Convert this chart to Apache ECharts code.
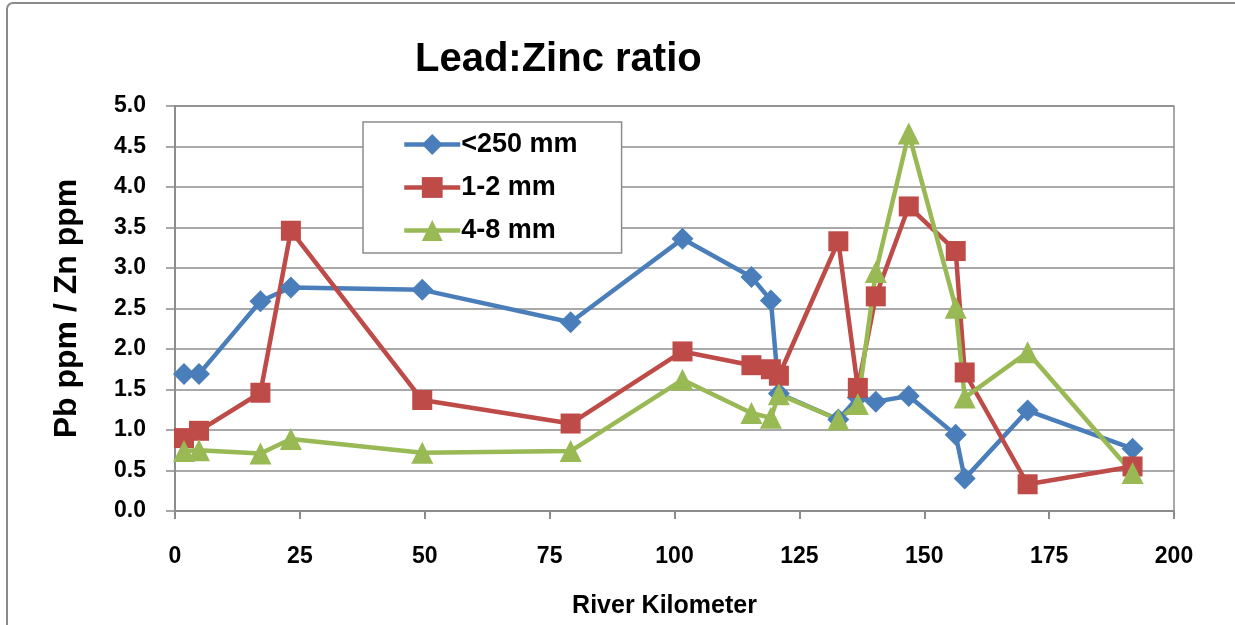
<!DOCTYPE html>
<html lang="en">
<head>
  <meta charset="UTF-8">
  <title>Lead:Zinc ratio</title>
  <style>
    html, body { margin: 0; padding: 0; background: #fff; }
    #main { width: 1235px; height: 625px; }
  </style>
</head>
<body>
  <div id="main"></div>
<script src="https://cdn.jsdelivr.net/npm/echarts@6/dist/echarts.min.js"></script>
<script>
  // river kilometre of each sampling site (shared by all three size fractions)
  const riverKm = [1.8, 4.8, 17.1, 23.2, 49.5, 79.2, 101.6, 115.4, 119.3, 120.9, 132.8, 136.7, 140.3, 146.9, 156.3, 158.1, 170.7, 191.7];

  const fine   = [1.69, 1.69, 2.59, 2.76, 2.73, 2.33, 3.36, 2.89, 2.60, 1.45, 1.13, 1.40, 1.35, 1.42, 0.94, 0.40, 1.24, 0.77];
  const medium = [0.90, 0.99, 1.46, 3.46, 1.37, 1.08, 1.97, 1.80, 1.75, 1.67, 3.33, 1.52, 2.65, 3.76, 3.21, 1.71, 0.33, 0.55];
  const coarse = [0.74, 0.75, 0.71, 0.89, 0.72, 0.74, 1.62, 1.21, 1.15, 1.44, 1.13, 1.32, 2.95, 4.66, 2.51, 1.40, 1.96, 0.47];

  const seriesNames = ['<250 mm', '1-2 mm', '4-8 mm'];

  const font = 'Liberation Sans, Arial, sans-serif';
  const gridGray = '#8c8c8c';

  function pairs(ys) {
    return riverKm.map((x, i) => [x, ys[i]]);
  }

  function lineSeries(name, ys, color, symbol, size) {
    return {
      name: name,
      type: 'line',
      data: pairs(ys),
      symbol: symbol,
      symbolSize: size,
      showAllSymbol: true,
      lineStyle: { color: color, width: 4.5 },
      itemStyle: { color: color },
      emphasis: { disabled: true },
      animation: false
    };
  }

  let myChart = echarts.init(document.getElementById('main'));

  myChart.setOption({
    animation: false,
    title: {
      text: 'Lead:Zinc ratio',
      left: 410,
      top: 35,
      textStyle: { fontFamily: font, fontWeight: 'bold', fontSize: 40, color: '#000' }
    },
    graphic: [{
      type: 'rect',
      shape: { x: 7, y: 3, width: 1260, height: 660, r: 6 },
      style: { fill: 'none', stroke: '#8a8a8a', lineWidth: 2 },
      silent: true
    }],
    legend: {
      orient: 'vertical',
      left: 363,
      top: 122,
      padding: [9, 44, 9, 39],
      itemWidth: 56,
      itemHeight: 26,
      itemGap: 16,
      backgroundColor: '#fff',
      borderColor: gridGray,
      borderWidth: 1.5,
      borderRadius: 0,
      lineStyle: { width: 4.5 },
      textStyle: { fontFamily: font, fontWeight: 'bold', fontSize: 27, color: '#000', padding: [0, 0, 0, -4] },
      data: seriesNames
    },
    grid: {
      left: 175,
      right: 61,
      top: 106,
      bottom: 114,
      show: true,
      borderColor: gridGray,
      borderWidth: 1.5
    },
    xAxis: {
      type: 'value',
      min: 0,
      max: 200,
      interval: 25,
      name: 'River Kilometer',
      nameLocation: 'middle',
      nameGap: 83,
      nameTextStyle: { fontFamily: font, fontWeight: 'bold', fontSize: 25, color: '#000', padding: [0, 20, 0, 0] },
      axisLine: { show: true, onZero: false, lineStyle: { color: gridGray, width: 2 } },
      axisTick: { show: true, inside: false, length: 8, lineStyle: { color: gridGray, width: 2 } },
      axisLabel: { margin: 34, fontFamily: font, fontWeight: 'bold', fontSize: 23, color: '#000' },
      splitLine: { show: false }
    },
    yAxis: {
      type: 'value',
      min: 0,
      max: 5,
      interval: 0.5,
      name: 'Pb ppm / Zn ppm',
      nameLocation: 'middle',
      nameGap: 92,
      nameTextStyle: { fontFamily: font, fontWeight: 'bold', fontSize: 32, color: '#000' },
      axisLine: { show: true, lineStyle: { color: gridGray, width: 2 } },
      axisTick: { show: true, inside: false, length: 9, lineStyle: { color: gridGray, width: 1.5 } },
      axisLabel: {
        margin: 29,
        fontFamily: font, fontWeight: 'bold', fontSize: 23, color: '#000',
        formatter: v => v.toFixed(1)
      },
      splitLine: { show: true, lineStyle: { color: gridGray, width: 1.5 } }
    },
    series: [
      lineSeries(seriesNames[0], fine, '#4A7EBB', 'diamond', 22),
      lineSeries(seriesNames[1], medium, '#BE4B48', 'rect', 20),
      lineSeries(seriesNames[2], coarse, '#98B954', 'triangle', 22)
    ]
  });
</script>
</body>
</html>
